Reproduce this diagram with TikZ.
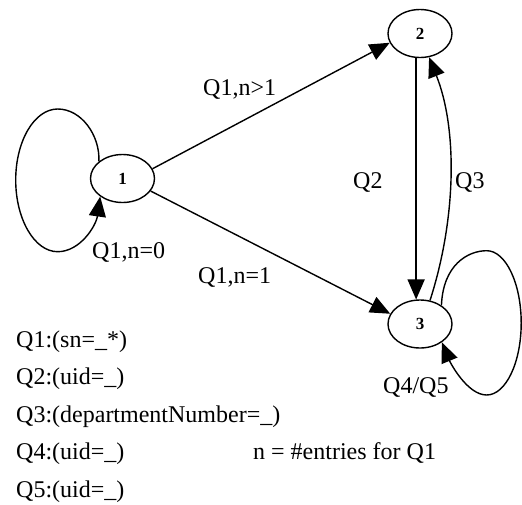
\documentclass[tikz,border=0pt]{standalone}
\usepackage{fontspec}
\setmainfont{Liberation Serif}
\usetikzlibrary{shapes.geometric,arrows.meta}
\begin{document}
\begin{tikzpicture}[x=1pt,y=-1pt,
  state/.style={draw,ellipse,line width=1.4pt,minimum width=64pt,minimum height=48pt,inner sep=0pt,font=\fontsize{17}{19}\selectfont\bfseries},
  edge/.style={line width=1.4pt,-{Triangle[length=20pt,width=17pt]}},
  lbl/.style={anchor=base west,inner sep=0pt,font=\fontsize{24}{28}\selectfont}]
\useasboundingbox (0,0) rectangle (522,504);
\node[state] (n1) at (122.5,178.5) {1};
\node[state] (n2) at (420,33.5) {2};
\node[state] (n3) at (420,324) {3};
% edges
\draw[edge] (n1.18) -- (n2.197);
\draw[edge] (n1.-24) -- (n3.161);
\draw[edge] (n2.-99.5) -- (n3.99.5);
\draw[edge] (n3.67) .. controls (456,220) and (458,130) .. (n2.-69);
% self loop on 1
\draw[edge] (n1.144) .. controls (100,135) and (81.2,109) .. (57.7,109)
  .. controls (34.5,109) and (15.7,140.8) .. (15.7,180)
  .. controls (15.7,219.2) and (34.5,251.7) .. (57.7,251.7)
  .. controls (80,251.7) and (96,226) .. (n1.-141);
% self loop on 3
\draw[edge] (n3.41) .. controls (443,265) and (467.7,250.7) .. (486.7,250.7)
  .. controls (505.7,250.7) and (521.2,283.3) .. (521.2,323)
  .. controls (521.2,362.7) and (505.7,395) .. (486.7,395)
  .. controls (467,395) and (450,362) .. (n3.-40.5);
% labels
\node[lbl] (l12) at (203,95) {Q1,n>1};
\node[lbl] (l13) at (198,283) {Q1,n=1};
\node[lbl] (l11) at (92,258) {Q1,n=0};
\node[lbl] (l23) at (353,188) {Q2};
\node[lbl] (l32) at (455,188) {Q3};
\node[lbl] (l33) at (383,393) {Q4/Q5};
% legend
\node[lbl] (q1) at (16,347) {Q1:(sn=\_*)};
\node[lbl] (q2) at (16,384.5) {Q2:(uid=\_)};
\node[lbl] (q3) at (16,422) {Q3:(departmentNumber=\_)};
\node[lbl] (q4) at (16,459.5) {Q4:(uid=\_)};
\node[lbl] (q5) at (16,497) {Q5:(uid=\_)};
\node[lbl] (nn) at (253,459.5) {n = \#entries for Q1};
\end{tikzpicture}
\end{document}
